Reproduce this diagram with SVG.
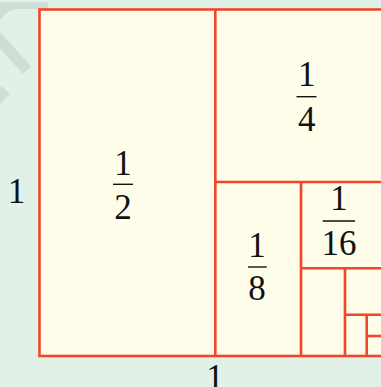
<svg xmlns="http://www.w3.org/2000/svg" width="381" height="387" viewBox="0 0 381 387">
<style>
.ln{stroke:#f2452a;stroke-width:2.6;fill:none}
.t{font-family:"Liberation Serif","Times New Roman",serif;font-size:35px;fill:#111;text-anchor:middle}
.bar{stroke:#111;stroke-width:1.4}
.wm{fill:none;stroke:#cfddd4;stroke-width:11}
</style>
<rect x="0" y="0" width="381" height="387" fill="#e1f1e7"/>
<g id="watermark">
<path d="M0,2 H48 V9 H18 Q8,9 0,20 Z" fill="#cfddd4"/>
<path class="wm" d="M-4,36 L27,70"/>
<path class="wm" d="M-4,100 L6,90"/>
</g>
<g id="square">
<rect x="39.5" y="9.5" width="360" height="346.5" fill="#fefde9" stroke="#f2452a" stroke-width="2.6"/>
</g>
<g id="connectors">
<line class="ln" x1="215.3" y1="9.5" x2="215.3" y2="356"/>
<line class="ln" x1="215.3" y1="182" x2="390" y2="182"/>
<line class="ln" x1="301" y1="182" x2="301" y2="356"/>
<line class="ln" x1="301" y1="268.3" x2="390" y2="268.3"/>
<line class="ln" x1="345" y1="268.3" x2="345" y2="356"/>
<line class="ln" x1="345" y1="314.7" x2="390" y2="314.7"/>
<line class="ln" x1="366.7" y1="314.7" x2="366.7" y2="356"/>
<line class="ln" x1="366.7" y1="336" x2="390" y2="336"/>
</g>
<g id="half">
<text class="t" x="123" y="175">1</text>
<line class="bar" x1="113" y1="184.3" x2="133" y2="184.3"/>
<text class="t" x="123" y="218.5">2</text>
</g>
<g id="quarter">
<text class="t" x="306.7" y="86">1</text>
<line class="bar" x1="296.5" y1="96.7" x2="316.5" y2="96.7"/>
<text class="t" x="306.7" y="130.5">4</text>
</g>
<g id="eighth">
<text class="t" x="257" y="256.7">1</text>
<line class="bar" x1="248" y1="267" x2="266.7" y2="267"/>
<text class="t" x="257" y="300">8</text>
</g>
<g id="sixteenth">
<text class="t" x="339" y="210">1</text>
<line class="bar" x1="322.7" y1="221" x2="355" y2="221"/>
<text class="t" x="339" y="254.5">16</text>
</g>
<g id="labels">
<text class="t" x="16.5" y="203.3">1</text>
<text class="t" x="215" y="388.5">1</text>
</g>
</svg>
